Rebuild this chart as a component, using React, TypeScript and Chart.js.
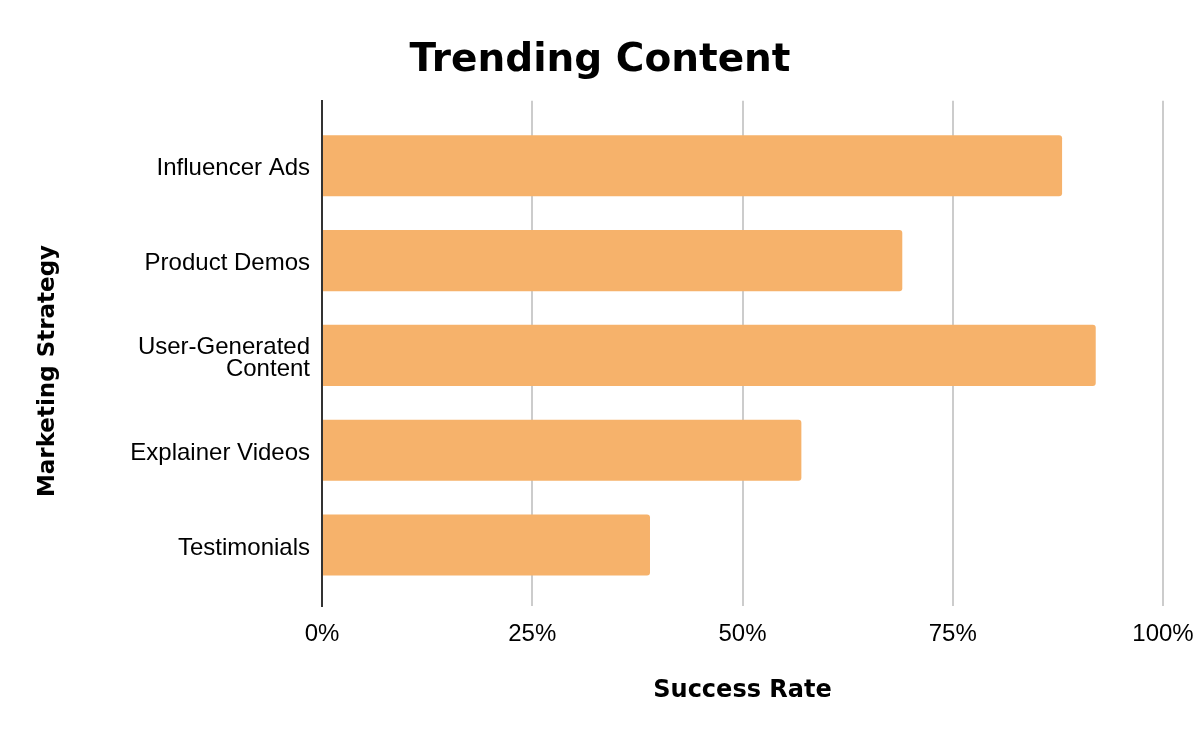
import React, { useEffect, useRef } from "react";
import { Chart, registerables } from "chart.js";

Chart.register(...registerables);

const categories: (string | string[])[] = [
  "Influencer Ads",
  "Product Demos",
  ["User-Generated", "Content"],
  "Explainer Videos",
  "Testimonials",
];
const successRates: number[] = [88, 69, 92, 57, 39];
const xTicks: number[] = [0, 25, 50, 75, 100];

const TITLE = "Trending Content";
const X_TITLE = "Success Rate";
const Y_TITLE = "Marketing Strategy";
const BAR_COLOR = "#F6B26B";

const Y_MIN = -0.686;
const Y_MAX = 4.644;

const yTitlePlugin = {
  id: "yTitleCentered",
  afterDraw(chart: any) {
    const ctx = chart.ctx;
    ctx.save();
    ctx.translate(48, chart.height / 2);
    ctx.rotate(-Math.PI / 2);
    ctx.fillStyle = "#000";
    ctx.font = "bold 23px 'DejaVu Sans', sans-serif";
    ctx.textAlign = "center";
    ctx.textBaseline = "middle";
    ctx.fillText(Y_TITLE, 0, 0);
    ctx.restore();
  },
};

export default function App() {
  const ref = useRef<HTMLCanvasElement | null>(null);

  useEffect(() => {
    if (!ref.current) return;
    const points = successRates.map((v, i) => ({ x: v, y: i }));
    const chart = new Chart(ref.current, {
      type: "bar",
      data: {
        datasets: [
          {
            data: points as any,
            backgroundColor: BAR_COLOR,
            borderRadius: 3,
            borderSkipped: "start",
            barPercentage: 0.644,
            categoryPercentage: 1,
          },
        ],
      },
      plugins: [yTitlePlugin],
      options: {
        indexAxis: "y",
        animation: false,
        responsive: false,
        devicePixelRatio: 1,
        layout: { padding: { top: 0, right: 0, bottom: 0, left: 0 } },
        plugins: {
          legend: { display: false },
          tooltip: { enabled: false },
          title: {
            display: true,
            text: TITLE,
            color: "#000",
            font: { family: "'Arial Black', 'DejaVu Sans', sans-serif", size: 39, weight: "bold" },
            padding: { top: 37, bottom: 17 },
          },
        },
        scales: {
          x: {
            type: "linear",
            min: 0,
            max: 100,
            afterBuildTicks: (scale: any) => {
              scale.ticks = xTicks.map((v) => ({ value: v }));
            },
            afterFit: (scale: any) => {
              scale.height = 136;
              scale.paddingRight = 37;
            },
            grid: {
              drawTicks: false,
              color: (ctx: any) => (ctx.tick && ctx.tick.value === 0 ? "#333333" : "#cccccc"),
              lineWidth: 2,
            },
            border: { display: false },
            ticks: {
              padding: 14,
              color: "#000",
              font: { family: "'Liberation Sans', Arial, sans-serif", size: 24 },
              callback: (v: any) => `${v}%`,
            },
            title: {
              display: true,
              text: X_TITLE,
              color: "#000",
              font: { family: "'DejaVu Sans', sans-serif", size: 24, weight: "bold" },
              padding: { top: 0, bottom: 37 },
            },
          },
          y: {
            type: "linear",
            reverse: true,
            offset: false,
            min: Y_MIN,
            max: Y_MAX,
            afterDataLimits: (scale: any) => {
              scale.min = Y_MIN;
              scale.max = Y_MAX;
            },
            afterBuildTicks: (scale: any) => {
              scale.ticks = categories.map((_, i) => ({ value: i }));
              scale.min = Y_MIN;
              scale.max = Y_MAX;
            },
            afterFit: (scale: any) => {
              scale.width = 322;
            },
            grid: { display: false, drawTicks: false, offset: false },
            border: { display: true, color: "#333333", width: 2 },
            ticks: {
              padding: 12,
              labelOffset: 3,
              color: "#000",
              font: { family: "'Liberation Sans', Arial, sans-serif", size: 24, lineHeight: 0.94 },
              callback: (v: any) => categories[Math.round(Number(v))] as any,
            },
            title: { display: false },
          },
        },
      },
    });
    return () => chart.destroy();
  }, []);

  return (
    <div style={{ position: "fixed", left: 0, top: 0, width: 1200, height: 742, background: "#fff" }}>
      <canvas ref={ref} width={1200} height={742} />
    </div>
  );
}
